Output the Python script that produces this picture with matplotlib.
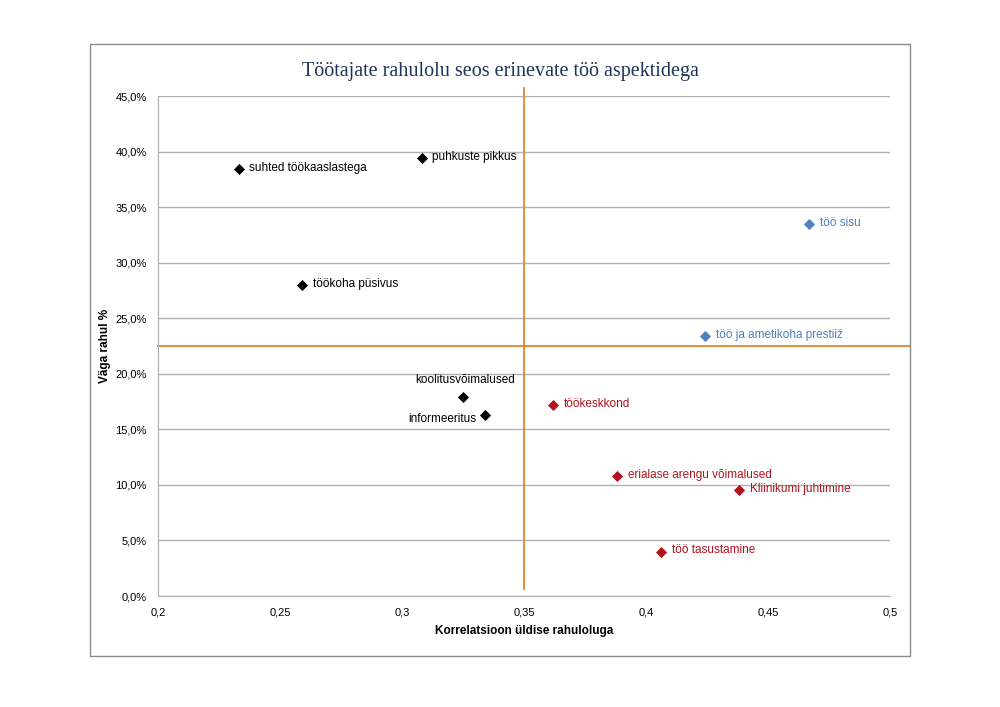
import matplotlib.pyplot as plt
from matplotlib.patches import Rectangle
from matplotlib.ticker import FuncFormatter

# aspect names, correlation with overall satisfaction, share "very satisfied" (%)
labels = ['suhted töökaaslastega', 'puhkuste pikkus', 'töökoha püsivus',
          'koolitusvõimalused', 'informeeritus',
          'töökeskkond', 'erialase arengu võimalused', 'Kliinikumi juhtimine',
          'töö tasustamine', 'töö sisu', 'töö ja ametikoha prestiiž']
corr = [0.233, 0.308, 0.259, 0.325, 0.334, 0.362, 0.388, 0.438, 0.406, 0.467, 0.424]
very_satisfied = [38.4, 39.4, 28.0, 17.9, 16.3, 17.2, 10.8, 9.5, 4.0, 33.5, 23.4]
groups = ['black', 'black', 'black', 'black', 'black',
          'red', 'red', 'red', 'red', 'blue', 'blue']

x_split = 0.35
y_split = 22.5

colors = {'black': '#000000', 'red': '#B3121C', 'blue': '#4F81BD'}
txt_font = ['Liberation Sans Narrow', 'Liberation Sans', 'DejaVu Sans']

fig = plt.figure(figsize=(10, 7.07), dpi=100)
fig.patches.append(Rectangle((0.09, 0.072), 0.82, 0.866, transform=fig.transFigure,
                             fill=False, edgecolor='#8C8C8C', linewidth=1.0))

ax = fig.add_axes([0.158, 0.157, 0.732, 0.707])

for lab, x, y, g in zip(labels, corr, very_satisfied, groups):
    c = colors[g]
    ax.scatter(x, y, marker='D', s=32, color=c, zorder=3, linewidths=0)
    if lab == 'koolitusvõimalused':
        ax.text(x + 0.001, y + 1.0, lab, ha='center', va='bottom', fontsize=8.5,
                color=c, family=txt_font)
    elif lab == 'informeeritus':
        ax.text(x - 0.0035, y - 0.4, lab, ha='right', va='center', fontsize=8.5,
                color=c, family=txt_font)
    else:
        ax.text(x + 0.0045, y + 0.1, lab, ha='left', va='center', fontsize=8.5,
                color=c, family=txt_font)

# quadrant lines (drawn past the plot area, like in the original)
ax.plot([x_split, x_split], [0.6, 45.7], color='#E0852F', lw=1.3, clip_on=False, zorder=2)
ax.plot([0.2, 0.508], [y_split, y_split], color='#E0852F', lw=1.3, clip_on=False, zorder=2)

ax.set_xlim(0.2, 0.5)
ax.set_ylim(0, 45)
ax.set_xticks([0.2, 0.25, 0.3, 0.35, 0.4, 0.45, 0.5])
ax.set_yticks(range(0, 46, 5))
ax.xaxis.set_major_formatter(FuncFormatter(lambda v, p: ('%g' % round(v, 2)).replace('.', ',')))
ax.yaxis.set_major_formatter(FuncFormatter(lambda v, p: ('%.1f%%' % v).replace('.', ',')))
ax.tick_params(length=0, labelsize=8, colors='#000000')
ax.tick_params(axis='x', pad=8)
ax.tick_params(axis='y', pad=8)
for t in ax.get_xticklabels() + ax.get_yticklabels():
    t.set_family(txt_font)

ax.grid(axis='y', color='#B0B0B0', linewidth=1.0)
ax.set_axisbelow(True)
for s in ['top', 'right']:
    ax.spines[s].set_visible(False)
for s in ['left', 'bottom']:
    ax.spines[s].set_color('#B0B0B0')

ax.set_xlabel('Korrelatsioon üldise rahuloluga', fontsize=8.5, fontweight='bold',
              family=txt_font, labelpad=6)
ax.set_ylabel('Väga rahul %', fontsize=8.5, fontweight='bold', family=txt_font, labelpad=3)

fig.text(0.5, 0.899, 'Töötajate rahulolu seos erinevate töö aspektidega', ha='center',
         va='center', fontsize=14.5, color='#1F3458', family='Liberation Serif')

fig.savefig('out.png', dpi=100)
